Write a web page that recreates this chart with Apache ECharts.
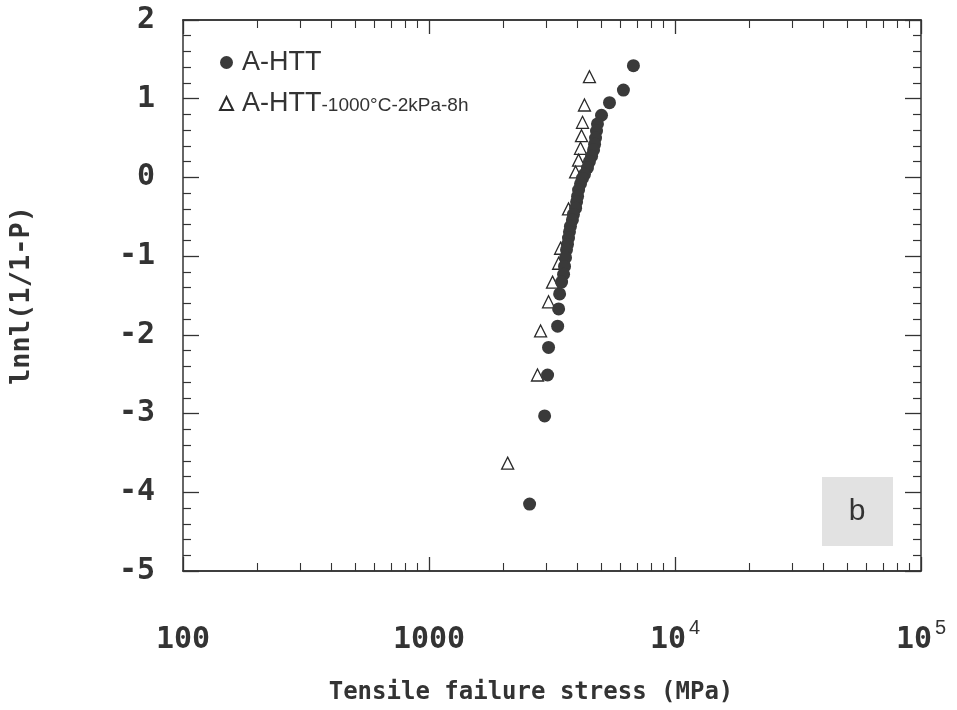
<!DOCTYPE html>
<html>
<head>
    <meta charset="utf-8">
    <title>weibull</title>
    <script src="https://cdn.jsdelivr.net/npm/echarts@6/dist/echarts.min.js"></script>
    <style>
        html, body { margin: 0; padding: 0; background: #fff; }
        #chart { width: 957px; height: 710px; }
    </style>
</head>
<body>
<div id="chart"></div>
<script>
    // A-HTT (filled circles): stress MPa, lnln(1/1-P)
    var htt_x = [6776, 6170, 5416, 5026, 4840, 4797, 4753, 4710, 4667, 4580, 4487, 4406, 4285, 4207, 4130,
        4055, 4018, 3981, 3944, 3864, 3828, 3758, 3724, 3690, 3656, 3622, 3589, 3556, 3524, 3459,
        3396, 3365, 3334, 3062, 3034, 2951, 2564];
    var htt_y = [1.42, 1.11, 0.95, 0.79, 0.68, 0.59, 0.50, 0.42, 0.35, 0.27, 0.20, 0.12, 0.04, -0.01, -0.08,
        -0.16, -0.24, -0.31, -0.39, -0.47, -0.54, -0.62, -0.69, -0.77, -0.85, -0.92, -1.02, -1.13, -1.23, -1.33,
        -1.48, -1.67, -1.89, -2.16, -2.51, -3.03, -4.15];
    // A-HTT-1000°C-2kPa-8h (open triangles)
    var heat_x = [4490, 4285, 4207, 4168, 4130, 4055, 3944, 3690, 3427, 3365, 3178, 3062, 2842, 2761, 2088];
    var heat_y = [1.28, 0.92, 0.70, 0.53, 0.37, 0.22, 0.07, -0.40, -0.90, -1.09, -1.33, -1.58, -1.95, -2.51, -3.63];

    var seriesNames = ['A-HTT', 'A-HTT-1000°C-2kPa-8h'];
    var xMajor = [100, 1000, 10000, 100000];
    var xMinor = [200, 300, 400, 500, 600, 700, 800, 900,
        2000, 3000, 4000, 5000, 6000, 7000, 8000, 9000,
        20000, 30000, 40000, 50000, 60000, 70000, 80000, 90000];

    function pairs(xs, ys) {
        var out = [];
        for (var i = 0; i < xs.length; i++) out.push([xs[i], ys[i]]);
        return out;
    }

    var ink = '#333';
    var tickFont = 'DejaVu Sans Mono';

    function xLabel(v) {
        if (v == 100) return '{n|100}';
        if (v == 1000) return '{n|1000}';
        var e = Math.round(Math.log10(v));
        return '{n|10}{s|' + e + '}';
    }

    var chart = echarts.init(document.getElementById('chart'));
    var baseX = {
        type: 'log', logBase: 10, min: 100, max: 100000, gridIndex: 0,
        axisLine: { show: true, onZero: false, lineStyle: { color: ink, width: 1.5 } },
        splitLine: { show: false }
    };
    var baseY = {
        type: 'value', min: -5, max: 2, interval: 1,
        axisLine: { show: true, onZero: false, lineStyle: { color: ink, width: 1.5 } },
        axisTick: { show: true, inside: true, length: 16, lineStyle: { color: ink, width: 1.3 } },
        minorTick: { show: true, splitNumber: 5, length: 8, lineStyle: { color: ink, width: 1.2 } },
        splitLine: { show: false }
    };
    var option = {
        animation: false,
        backgroundColor: '#fff',
        grid: { left: 182, right: 36, top: 20, bottom: 139 },
        legend: {
            orient: 'vertical', left: 214, top: 44, itemGap: 14,
            itemWidth: 13, itemHeight: 13,
            data: [
                { name: seriesNames[0], icon: 'circle' },
                { name: seriesNames[1], icon: 'triangle' }
            ],
            formatter: function (name) {
                if (name == seriesNames[0]) return '{a|A-HTT}';
                return '{a|A-HTT}{b|-1000°C-2kPa-8h}';
            },
            textStyle: {
                rich: {
                    a: { fontFamily: 'Liberation Sans', fontSize: 27, color: ink, padding: [0, 0, 0, 4] },
                    b: { fontFamily: 'Liberation Sans', fontSize: 19, color: ink, padding: [5, 0, 0, 0] }
                }
            }
        },
        xAxis: [
            Object.assign({}, baseX, {
                position: 'bottom',
                name: 'Tensile failure stress (MPa)', nameLocation: 'middle', nameGap: 110,
                nameTextStyle: { fontFamily: tickFont, fontWeight: 'bold', fontSize: 24, color: ink, padding: [0, 42, 0, 0] },
                axisTick: { show: true, inside: true, length: 14, customValues: xMajor, lineStyle: { color: ink, width: 1.3 } },
                axisLabel: {
                    margin: 47, formatter: xLabel, customValues: xMajor,
                    rich: {
                        n: { fontFamily: tickFont, fontWeight: 'bold', fontSize: 30, lineHeight: 44, color: ink },
                        s: { fontFamily: 'Liberation Sans', fontSize: 20, color: ink, padding: [0, 0, 24, 3] }
                    }
                }
            }),
            Object.assign({}, baseX, {
                position: 'bottom',
                axisTick: { show: true, inside: true, length: 8, customValues: xMinor, lineStyle: { color: ink, width: 1.1 } },
                axisLabel: { show: false }
            }),
            Object.assign({}, baseX, {
                position: 'top',
                axisTick: { show: true, inside: true, length: 14, customValues: xMajor, lineStyle: { color: ink, width: 1.3 } },
                axisLabel: { show: false }
            }),
            Object.assign({}, baseX, {
                position: 'top',
                axisTick: { show: true, inside: true, length: 8, customValues: xMinor, lineStyle: { color: ink, width: 1.1 } },
                axisLabel: { show: false }
            })
        ],
        yAxis: [
            Object.assign({}, baseY, {
                position: 'left',
                name: 'lnnl(1/1-P)', nameLocation: 'middle', nameGap: 148,
                nameTextStyle: { fontFamily: tickFont, fontWeight: 'bold', fontSize: 27, color: ink },
                axisLabel: { margin: 28, fontFamily: tickFont, fontWeight: 'bold', fontSize: 30, color: ink }
            }),
            Object.assign({}, baseY, {
                position: 'right',
                axisLabel: { show: false }
            })
        ],
        series: [
            {
                name: seriesNames[1], type: 'scatter', symbol: 'triangle', symbolSize: 12,
                itemStyle: { color: '#fff', borderColor: '#2a2a2a', borderWidth: 1.3, opacity: 1 },
                data: pairs(heat_x, heat_y), z: 2
            },
            {
                name: seriesNames[0], type: 'scatter', symbol: 'circle', symbolSize: 13,
                itemStyle: { color: '#3a3a3a', opacity: 1 },
                data: pairs(htt_x, htt_y), z: 3
            }
        ],
        graphic: [
            {
                type: 'group', left: 822, top: 477,
                children: [
                    { type: 'rect', shape: { x: 0, y: 0, width: 71, height: 69 }, style: { fill: '#e2e2e2' } },
                    { type: 'text', x: 35, y: 35, style: { text: 'b', fontFamily: 'Liberation Sans', fontSize: 30, fill: '#333', align: 'center', verticalAlign: 'middle' } }
                ]
            }
        ]
    };
    chart.setOption(option);

    window.onresize = function () {
        chart.resize();
    };
</script>
</body>
</html>
